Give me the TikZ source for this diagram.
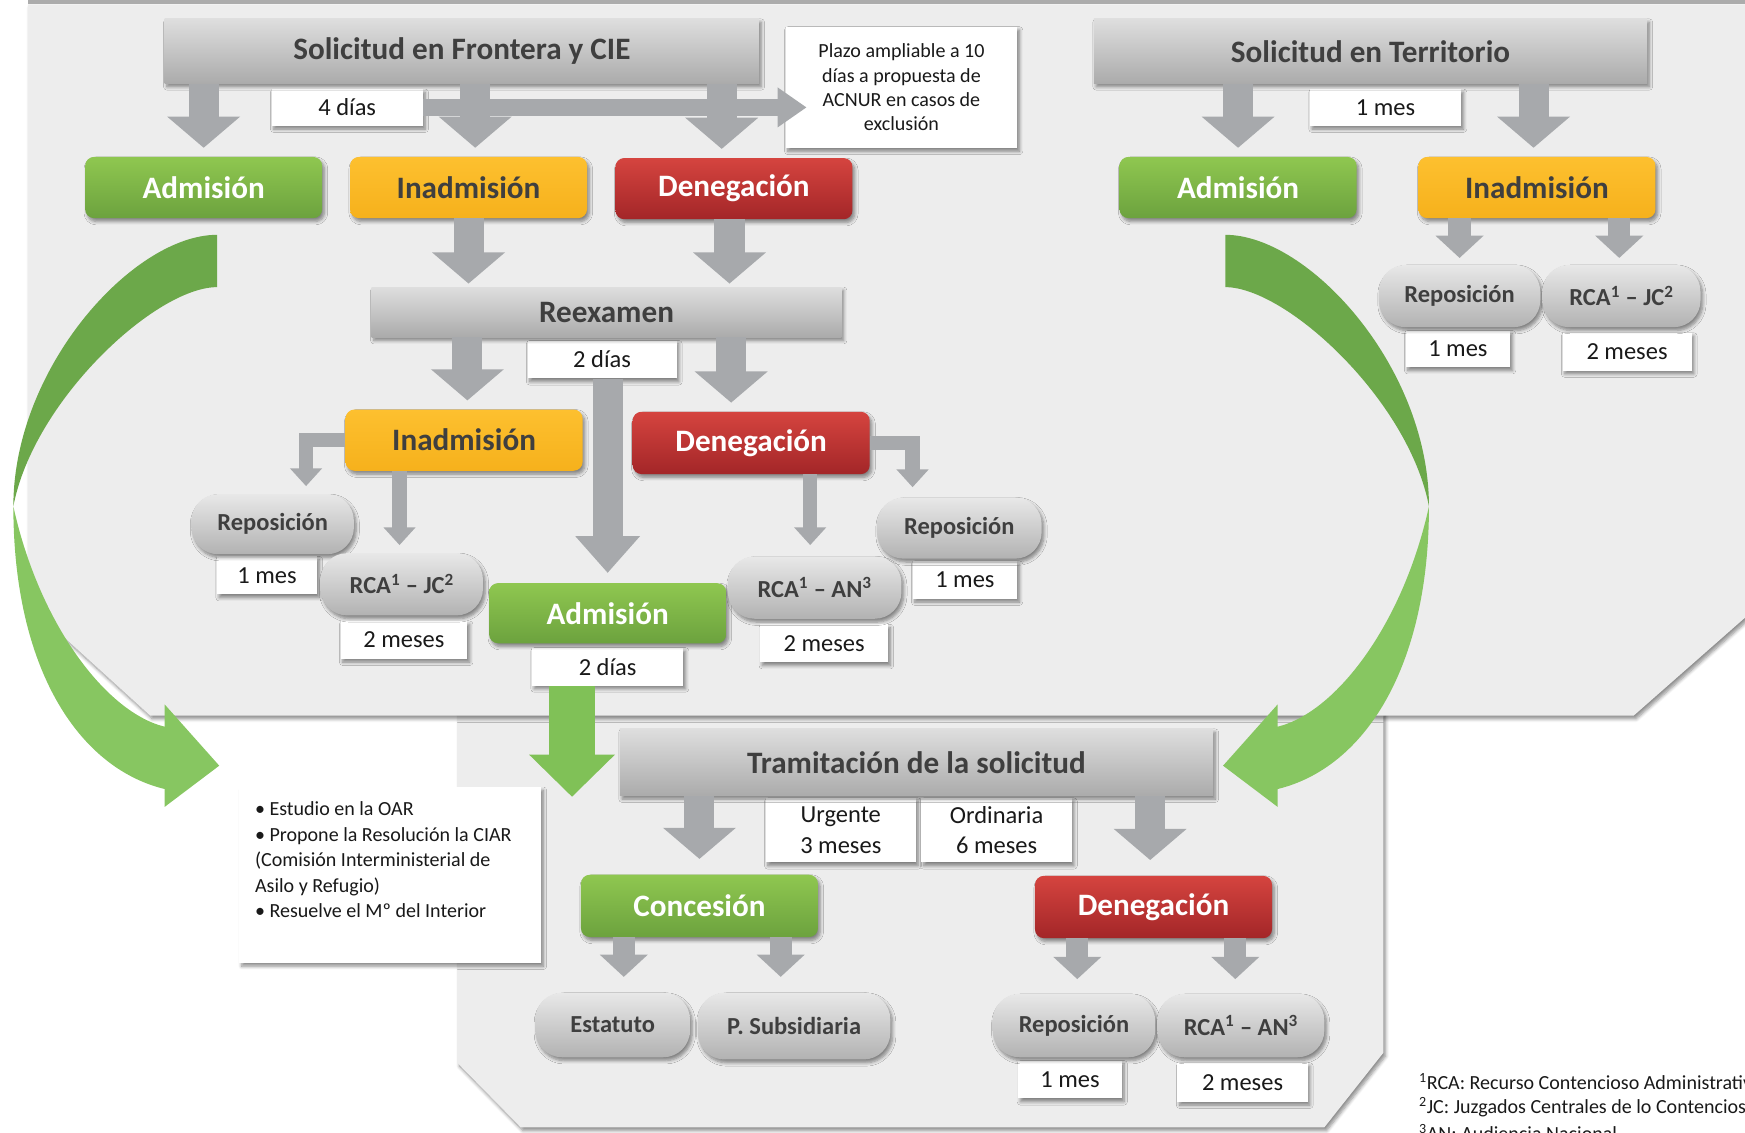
\documentclass[tikz,border=0pt]{standalone}
\usepackage{fontspec}
\setmainfont{Carlito}
\usetikzlibrary{arrows.meta,shadows.blur}

\definecolor{panelgray}{HTML}{EDEDED}
\definecolor{txtgray}{HTML}{3F3F3F}
\definecolor{arrgray}{HTML}{A7A9AC}
\definecolor{boxTop}{HTML}{DEDEDE}
\definecolor{boxBot}{HTML}{ABABAB}
\definecolor{pillTop}{HTML}{E8E8E8}
\definecolor{pillBot}{HTML}{B2B2B2}
\definecolor{grTop}{HTML}{8FC750}
\definecolor{grBot}{HTML}{6CA23E}
\definecolor{yeTop}{HTML}{FDC02F}
\definecolor{yeBot}{HTML}{F6B11C}
\definecolor{reTop}{HTML}{D5443F}
\definecolor{reBot}{HTML}{A32628}
\definecolor{ribDark}{HTML}{6CA84A}
\definecolor{ribLight}{HTML}{87C661}
\definecolor{grArrow}{HTML}{80C157}

\newcommand\bigbf{\fontsize{28}{32}\selectfont\bfseries}
\newcommand\pillbf{\fontsize{22}{26}\selectfont\bfseries}
\newcommand\labfont{\fontsize{22}{27}\selectfont}
\newcommand\notefont{\fontsize{18}{22}\selectfont}
\newcommand\infofont{\fontsize{18}{23}\selectfont}

\def\ribbon{%
	\fill[ribDark] (195,211) .. controls (120,211) and (12,330) .. (12,455) .. controls (30,360) and (140,258) .. (195,258) -- cycle;
	\fill[ribLight] (12,455) .. controls (12,600) and (70,690) .. (148,709) -- (148,725) -- (197,688) -- (148,633) -- (148,653) .. controls (95,640) and (35,560) .. (12,455) -- cycle;
}

\tikzset{
	shad/.style={blur shadow={shadow xshift=2pt,shadow yshift=-3pt,shadow blur radius=3pt,shadow blur steps=6,shadow opacity=45}},
	titlebox/.style={rectangle,inner sep=0pt,top color=boxTop,bottom color=boxBot,text=txtgray,font=\bigbf,shad},
	colbox/.style={rectangle,rounded corners=8pt,inner sep=0pt,minimum width=213pt,minimum height=55pt,font=\bigbf,shad},
	admbox/.style={colbox,top color=grTop,bottom color=grBot,text=white},
	inadbox/.style={colbox,top color=yeTop,bottom color=yeBot,text=txtgray},
	denbox/.style={colbox,top color=reTop,bottom color=reBot,text=white},
	pill/.style={rectangle,rounded corners=24pt,inner sep=0pt,minimum width=146pt,minimum height=56pt,top color=pillTop,bottom color=pillBot,text=txtgray,font=\pillbf,shad},
	tlab/.style={rectangle,fill=white,inner sep=0pt,minimum height=34pt,text=black!90,font=\labfont,shad},
	notebox/.style={rectangle,fill=white,inner sep=0pt,text=black!90,shad},
	foot/.style={anchor=west,inner sep=0pt,text=black!90,font=\notefont},
	bigarrow/.style={draw=arrgray,line width=27pt,-{Triangle[width=64pt,length=28pt]}},
	carrow/.style={draw=arrgray,line width=27pt,-{Triangle[width=56pt,length=33pt]}},
	midarrow/.style={draw=arrgray,line width=20pt,-{Triangle[width=42pt,length=20pt]}},
	thinarrow/.style={draw=arrgray,line width=13pt,-{Triangle[width=28pt,length=16pt]}},
	harrow/.style={draw=arrgray,line width=15pt,-{Triangle[width=34pt,length=26pt]}},
	grarrow/.style={draw=grArrow,line width=41pt,-{Triangle[width=75pt,length=38pt]}}
}

\begin{document}
\begin{tikzpicture}[x=1pt,y=-1pt]
	%%%%% START %%%%%
	\clip (0,0) rectangle (1568,1018);
	
	% panels
	\fill[gray!65] (25,0) rectangle (1568,4);
	\fill[panelgray,shad] (411,640) -- (1243,640) -- (1243,946) -- (1190,1013) -- (468,1013) -- (411,955) -- cycle;
	\fill[panelgray,shad] (25,4) -- (1568,4) -- (1568,555) -- (1468,643) -- (135,643) -- (25,543) -- cycle;
	
	% green ribbons
	\ribbon
	\begin{scope}[xshift=1296pt,xscale=-1]
		\ribbon
	\end{scope}
	
	% Frontera y CIE
	\node[tlab,minimum width=136pt,minimum height=33pt] (solFD) at (312,96.5) {4 días};
	\node[titlebox,minimum width=534pt,minimum height=58pt] (solF) at (415,46) {Solicitud en Frontera y CIE};
	\node[notebox,minimum width=208pt,minimum height=109pt,align=center,font=\notefont] (plazo) at (810,78.5) {Plazo ampliable a 10\\días a propuesta de\\ACNUR en casos de\\exclusión};
	\node[admbox] (admF) at (183,168.5) {Admisión};
	\node[inadbox] (inadF) at (421,168.5) {Inadmisión};
	\node[denbox] (denF) at (659.5,169.5) {Denegación};
	
	% Reexamen
	\node[tlab,minimum width=134pt] (reexD) at (541,323) {2 días};
	\node[titlebox,minimum width=422pt,minimum height=45pt] (reex) at (545,280.5) {Reexamen};
	\node[inadbox] (inadR) at (417,395.5) {Inadmisión};
	\node[denbox,minimum height=56pt] (denR) at (675,398) {Denegación};
	\node[tlab,minimum width=90pt] (repIRD) at (240,517) {1 mes};
	\node[pill,minimum height=54pt] (repIR) at (245,471) {Reposición};
	\node[tlab,minimum width=114pt] (rcaIRD) at (363,575) {2 meses};
	\node[pill] (rcaIR) at (361,525) {RCA\textsuperscript{1} – JC\textsuperscript{2}};
	\node[tlab,minimum width=136pt] (admRD) at (546,599) {2 días};
	\node[admbox,minimum height=54pt] (admR) at (546,551) {Admisión};
	\node[tlab,minimum width=115pt] (rcaDRD) at (740.5,578) {2 meses};
	\node[pill,minimum width=156pt] (rcaDR) at (732,528) {RCA\textsuperscript{1} – AN\textsuperscript{3}};
	\node[tlab,minimum width=94pt] (repDRD) at (867,521) {1 mes};
	\node[pill,minimum width=148pt,minimum height=55pt] (repDR) at (862,474.5) {Reposición};
	
	% Territorio
	\node[tlab,minimum width=136pt,minimum height=33pt] (solTD) at (1245,96.5) {1 mes};
	\node[titlebox,minimum width=497pt,minimum height=58pt] (solT) at (1231.5,46) {Solicitud en Territorio};
	\node[admbox] (admT) at (1112.5,168.5) {Admisión};
	\node[inadbox] (inadT) at (1381,168.5) {Inadmisión};
	\node[tlab,minimum width=94pt,minimum height=33pt] (repTD) at (1310,313.5) {1 mes};
	\node[pill,minimum width=145pt] (repT) at (1311.5,266) {Reposición};
	\node[tlab,minimum width=116pt] (rcaTD) at (1462,316) {2 meses};
	\node[pill,minimum width=142pt] (rcaT) at (1457,266) {RCA\textsuperscript{1} – JC\textsuperscript{2}};
	
	% Tramitacion
	\node[tlab,minimum width=135pt,minimum height=58pt,align=center] (urg) at (755.5,746) {Urgente\\3 meses};
	\node[tlab,minimum width=135pt,minimum height=58pt,align=center] (ord) at (895.5,746) {Ordinaria\\6 meses};
	\node[titlebox,minimum width=533pt,minimum height=60pt] (tram) at (823.5,685) {Tramitación de la solicitud};
	\node[admbox,minimum height=56pt] (conc) at (628.5,814) {Concesión};
	\node[denbox,minimum height=56pt] (denT) at (1036.5,815) {Denegación};
	\node[pill,minimum width=139pt,minimum height=58pt] (est) at (550.5,921) {Estatuto};
	\node[pill,minimum width=173pt,minimum height=60pt] (psub) at (713.5,922) {P. Subsidiaria};
	\node[tlab,minimum width=93pt] (repTrD) at (961.5,970) {1 mes};
	\node[pill,minimum height=57pt] (repTr) at (965,921.5) {Reposición};
	\node[tlab,minimum width=117pt,minimum height=35pt] (rcaTrD) at (1116.5,972.5) {2 meses};
	\node[pill,minimum width=150pt,minimum height=57pt] (rcaTr) at (1115,921.5) {RCA\textsuperscript{1} – AN\textsuperscript{3}};
	
	% OAR note
	\node[notebox,minimum width=271pt,minimum height=158pt,anchor=north west] (oar) at (215,707) {};
	\node[anchor=north west,align=left,inner sep=0pt,text=black!90,font=\infofont] (oarTxt) at (229,720) {• Estudio en la OAR\\• Propone la Resolución la CIAR\\(Comisión Interministerial de\\Asilo y Refugio)\\• Resuelve el Mº del Interior};
	
	% footnotes
	\node[foot] (fn1) at (1275,972) {\textsuperscript{1}RCA: Recurso Contencioso Administrativo};
	\node[foot] (fn2) at (1275,995) {\textsuperscript{2}JC: Juzgados Centrales de lo Contencioso-Administrativo};
	\node[foot] (fn3) at (1275,1018) {\textsuperscript{3}AN: Audiencia Nacional};
	
	% arrows
	\draw[bigarrow,shorten >=8pt] (solF.south -| admF) -- (admF.north);
	\draw[bigarrow,shorten >=8pt] ([xshift=6pt]inadF.north |- solF.south) -- ([xshift=6pt]inadF.north);
	\draw[bigarrow,shorten >=8pt] ([xshift=-11pt]denF.north |- solF.south) -- ([xshift=-11pt]denF.north);
	\draw[harrow,shorten >=-19pt] (solFD.east) -- (solFD.east -| plazo.west);
	\draw[bigarrow,shorten >=3pt] (inadF.south) -- (inadF.south |- reex.north);
	\draw[bigarrow,shorten >=3pt] ([xshift=-4pt]denF.south) -- ([xshift=-4pt]denF.south |- reex.north);
	\draw[bigarrow,shorten >=8pt] ([xshift=3pt]inadR.north |- reex.south) -- ([xshift=3pt]inadR.north);
	\draw[bigarrow,shorten >=8pt] ([xshift=-18pt]denR.north |- reex.south) -- ([xshift=-18pt]denR.north);
	\draw[carrow,shorten >=9pt] (reexD.south -| admR) -- (admR.north);
	\draw[thinarrow,shorten >=7pt] (inadR.west) -| ([xshift=30pt]repIR.north);
	\draw[thinarrow,shorten >=7pt] ([xshift=-2pt]rcaIR.north |- inadR.south) -- ([xshift=-2pt]rcaIR.north);
	\draw[thinarrow,shorten >=10pt] ([xshift=-4pt]rcaDR.north |- denR.south) -- ([xshift=-4pt]rcaDR.north);
	\draw[thinarrow,shorten >=9pt] (denR.east) -| ([xshift=-42pt]repDR.north);
	
	\draw[bigarrow,shorten >=8pt] (solT.south -| admT) -- (admT.north);
	\draw[bigarrow,shorten >=8pt] ([xshift=-3pt]inadT.north |- solT.south) -- ([xshift=-3pt]inadT.north);
	\draw[midarrow,shorten >=6pt] (inadT.south -| repT) -- (repT.north);
	\draw[midarrow,shorten >=6pt] ([xshift=-2pt]rcaT.north |- inadT.south) -- ([xshift=-2pt]rcaT.north);
	
	\coordinate (tramIn) at (514,716);
	\draw[grarrow] (admRD.south -| tramIn) -- (tramIn);
	\draw[bigarrow,shorten >=14pt] (tram.south -| conc) -- (conc.north);
	\draw[bigarrow,shorten >=14pt] ([xshift=-3pt]denT.north |- tram.south) -- ([xshift=-3pt]denT.north);
	\draw[midarrow,shorten >=14pt] ([xshift=10pt]est.north |- conc.south) -- ([xshift=10pt]est.north);
	\draw[midarrow,shorten >=14pt] ([xshift=-12pt]psub.north |- conc.south) -- ([xshift=-12pt]psub.north);
	\draw[midarrow,shorten >=13pt] ([xshift=3pt]repTr.north |- denT.south) -- ([xshift=3pt]repTr.north);
	\draw[midarrow,shorten >=13pt] ([xshift=-5pt]rcaTr.north |- denT.south) -- ([xshift=-5pt]rcaTr.north);
	%%%%% END %%%%%
\end{tikzpicture}
\end{document}
